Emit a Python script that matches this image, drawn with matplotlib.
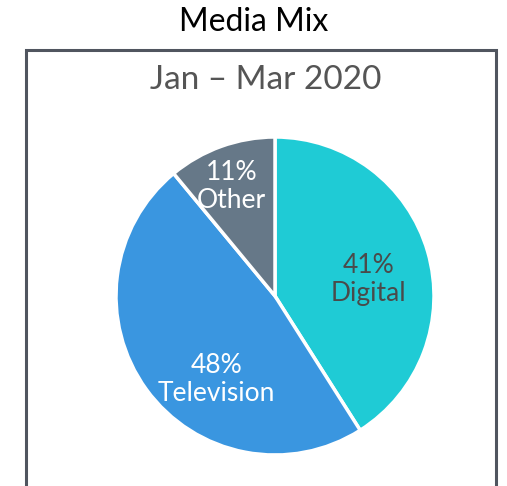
import matplotlib
matplotlib.use('Agg')
import matplotlib.pyplot as plt
import matplotlib.patches as patches
import numpy as np

# Media spend share, Q1 2020
channels = ['Digital', 'Television', 'Other']
shares = [41, 48, 11]
colors = ['#1fcbd5', '#3a96e0', '#667888']
label_colors = ['#4a4a4a', 'white', 'white']
# per-slice label placement (radius fraction, angle shift in degrees)
label_radius = [0.60, 0.64, 0.74]
label_shift = [-6, 19, 2]

plt.rcParams['font.family'] = ['Lato', 'DejaVu Sans']

W, H = 507, 486
fig = plt.figure(figsize=(W / 100, H / 100), dpi=100)

# outer frame, open at the bottom edge
frame = patches.Rectangle((26 / W, -0.05), (496 - 26) / W, 1.05 - 50 / H,
                          transform=fig.transFigure, fill=False,
                          edgecolor='#50555f', linewidth=2.2, clip_on=False)
fig.patches.append(frame)

fig.text(254 / W, 1 - 22 / H, 'Media Mix', ha='center', va='center',
         fontsize=23, color='black')
fig.text(266 / W, 1 - 80 / H, 'Jan \u2013 Mar 2020', ha='center', va='center',
         fontsize=24, color='#555555')

cx, cy, r = 275, 296, 159
ax = fig.add_axes([(cx - r) / W, (H - cy - r) / H, 2 * r / W, 2 * r / H])
wedges, _ = ax.pie(shares, colors=colors, startangle=90, counterclock=False,
                   wedgeprops=dict(edgecolor='white', linewidth=2.5))
ax.set_xlim(-1, 1)
ax.set_ylim(-1, 1)
ax.axis('off')

for w, name, pct, tc, rf, sh in zip(wedges, channels, shares, label_colors,
                                   label_radius, label_shift):
    ang = np.deg2rad((w.theta1 + w.theta2) / 2 + sh)
    ax.text(rf * np.cos(ang), rf * np.sin(ang), f'{pct}%\n{name}',
            ha='center', va='center', fontsize=19, color=tc,
            linespacing=1.15)

fig.savefig('out.png', dpi=100)
